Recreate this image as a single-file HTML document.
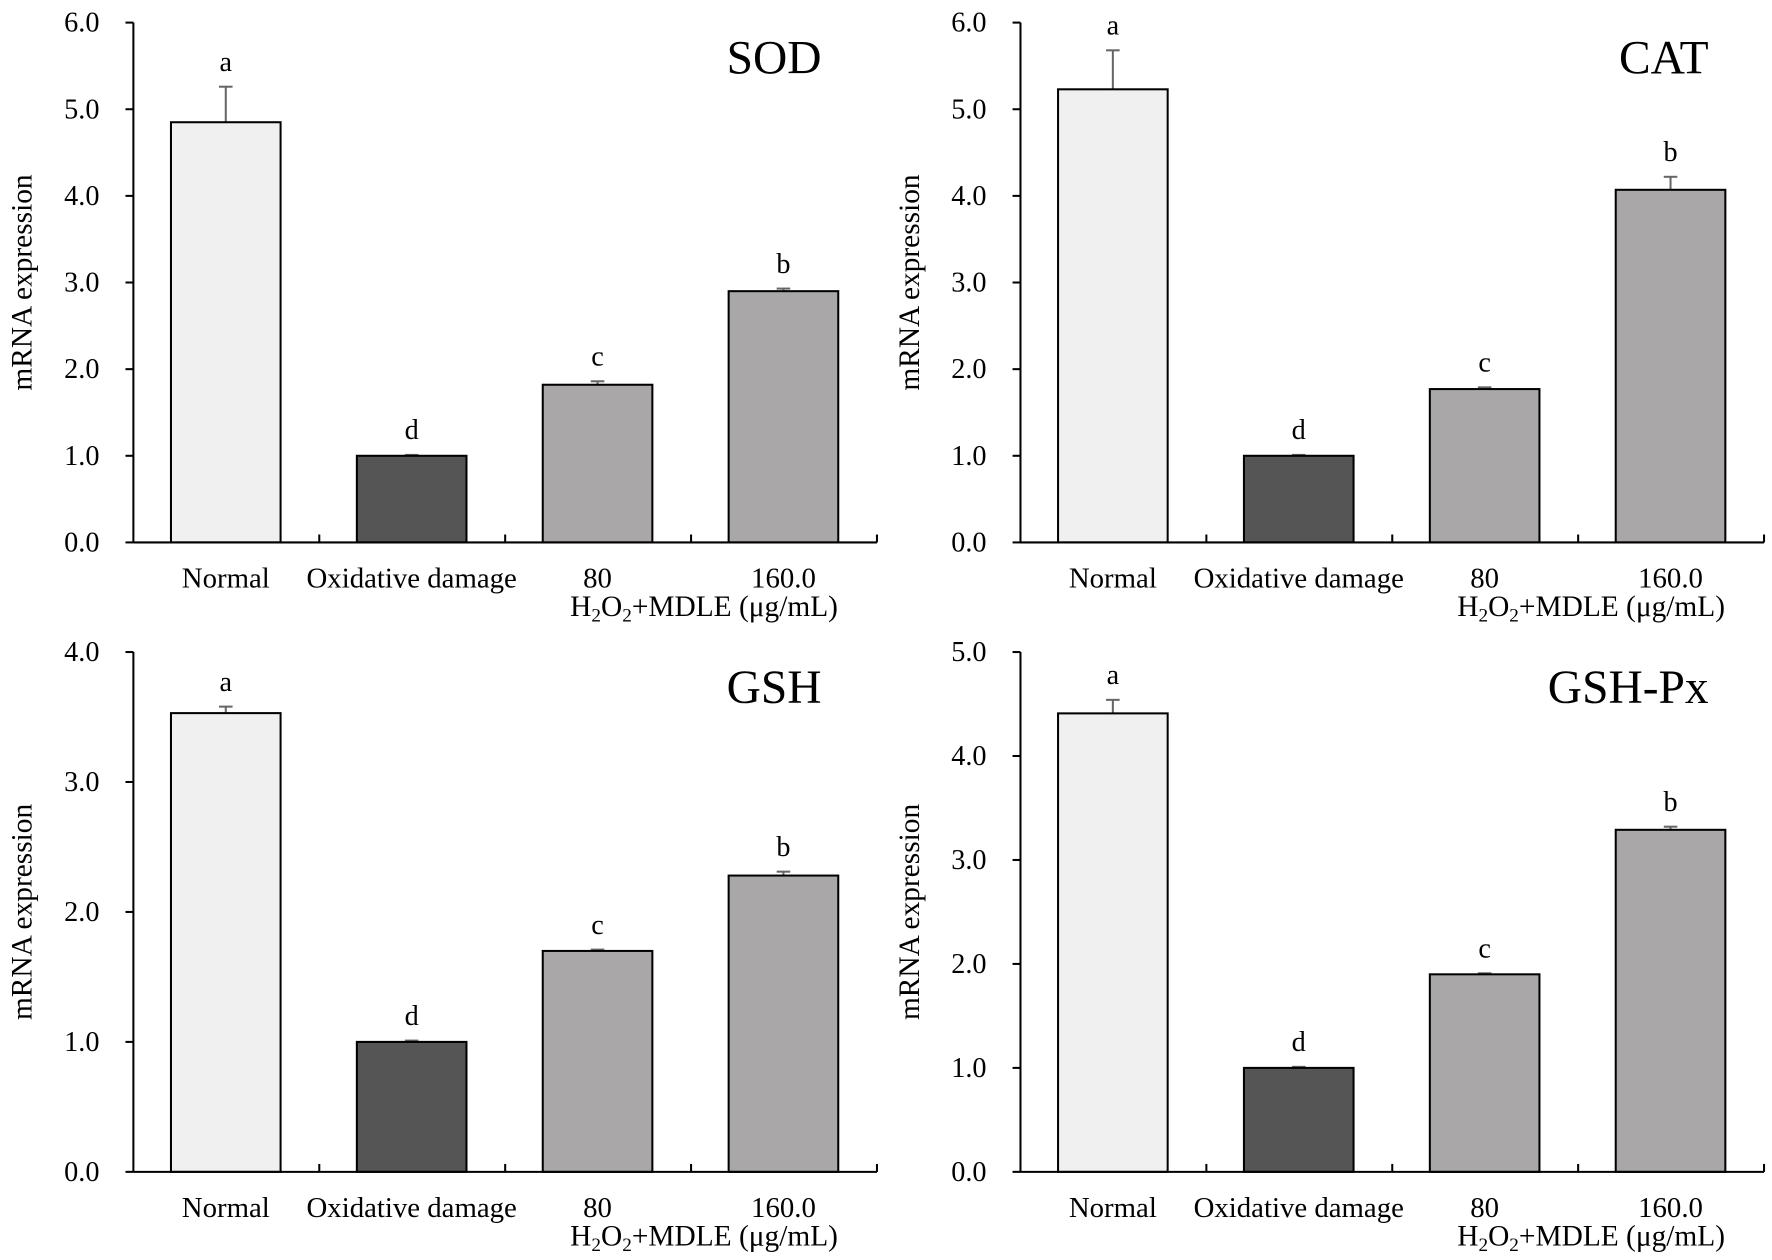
<!DOCTYPE html>
<html><head><meta charset="utf-8"><style>
html,body{margin:0;padding:0;background:#fff;}
svg{display:block;font-family:"Liberation Serif",serif;}
</style></head><body>
<svg id="chart" width="1772" height="1260" viewBox="0 0 1568 1115" xmlns="http://www.w3.org/2000/svg"></svg>
<script>
const categories = ["Normal", "Oxidative damage", "80", "160.0"];
const panelTitles = ["SOD", "CAT", "GSH", "GSH-Px"];
const yMaxes = [6, 6, 4, 5];
const sodValues = [4.85, 1.0, 1.82, 2.9];
const sodErrors = [0.41, 0.01, 0.04, 0.03];
const catValues = [5.23, 1.0, 1.77, 4.07];
const catErrors = [0.45, 0.01, 0.02, 0.15];
const gshValues = [3.53, 1.0, 1.7, 2.28];
const gshErrors = [0.05, 0.01, 0.01, 0.03];
const gshpxValues = [4.41, 1.0, 1.9, 3.29];
const gshpxErrors = [0.13, 0.01, 0.01, 0.03];
const sigLetters = ["a", "d", "c", "b"];

const allValues = [sodValues, catValues, gshValues, gshpxValues];
const allErrors = [sodErrors, catErrors, gshErrors, gshpxErrors];
const fills = ["#f0f0f0", "#555555", "#aaa7a8", "#aaa7a8"];
const NS = "http://www.w3.org/2000/svg";
const svg = document.getElementById("chart");

function mk(tag, attrs, parent, text) {
  const e = document.createElementNS(NS, tag);
  for (const k in attrs) e.setAttribute(k, attrs[k]);
  if (text !== undefined) e.textContent = text;
  parent.appendChild(e);
  return e;
}

for (let p = 0; p < 4; p++) {
  const ox = (p % 2) * 785, oy = Math.floor(p / 2) * 557;
  const ax = 118 + ox, top = 20 + oy, bot = 480 + oy, right = 776 + ox;
  const yMax = yMaxes[p];
  const y = v => bot - (v / yMax) * (bot - top);
  const bandW = (right - ax) / 4;
  const xc = i => ax + bandW * (i + 0.5) - 0.5;

  const g = mk("g", {}, svg);
  
  

  const yAxis = mk("line", {x1: ax, y1: top, x2: ax, y2: bot, stroke: "#000", "stroke-width": 1.8}, g);
  
  
  for (let t = 0; t <= yMax; t++) {
    const ty = y(t);
    const tk = mk("line", {x1: ax - 7, y1: ty, x2: ax, y2: ty, stroke: "#000", "stroke-width": 1.8}, g);
    
    
    const tl = mk("text", {x: ax - 30, y: ty + 8, "text-anchor": "end", "font-size": 25}, g, t.toFixed(1));
    
    
  }
  const yl = mk("text", {x: 0, y: 0, "text-anchor": "middle", "font-size": 26,
    transform: `translate(${28 + ox},${250 + oy}) rotate(-90)`}, g, "mRNA expression");
  
  

  for (let i = 0; i < 4; i++) {
    const v = allValues[p][i], e = allErrors[p][i];
    const cx = xc(i), bw = 97;
    const ex = mk("line", {x1: cx, y1: y(v), x2: cx, y2: y(v + e), stroke: "#666", "stroke-width": 1.8}, g);
    
    
    const ec = mk("line", {x1: cx - 6, y1: y(v + e), x2: cx + 6, y2: y(v + e), stroke: "#666", "stroke-width": 1.8}, g);
    
    
    const r = mk("rect", {x: cx - bw / 2, y: y(v), width: bw, height: bot - y(v), fill: fills[i], stroke: "#000", "stroke-width": 1.8}, g);
    
    
    const lt = mk("text", {x: cx, y: y(v + e) - 14, "text-anchor": "middle", "font-size": 25}, g, sigLetters[i]);
    
    
    const cl = mk("text", {x: cx, y: 520 + oy, "text-anchor": "middle", "font-size": 25.5}, g, categories[i]);
    
    
  }
  const xAxis = mk("line", {x1: ax, y1: bot, x2: right, y2: bot, stroke: "#000", "stroke-width": 1.8}, g);
  
  
  for (let i = 1; i <= 4; i++) {
    const tx = ax + bandW * i;
    const tk = mk("line", {x1: tx, y1: bot - 7, x2: tx, y2: bot, stroke: "#000", "stroke-width": 1.8}, g);
    
    
  }
  const dl = mk("text", {x: 623 + ox, y: 545 + oy, "text-anchor": "middle", "font-size": 26}, g);
  
  
  dl.innerHTML = 'H<tspan font-size="17" dy="5">2</tspan><tspan dy="-5">O</tspan><tspan font-size="17" dy="5">2</tspan><tspan dy="-5">+MDLE (μg/mL)</tspan>';
  const tt = mk("text", {x: 727 + ox, y: 65 + oy, "text-anchor": "end", "font-size": 42}, g, panelTitles[p]);
  
  
}
</script>
</body></html>
